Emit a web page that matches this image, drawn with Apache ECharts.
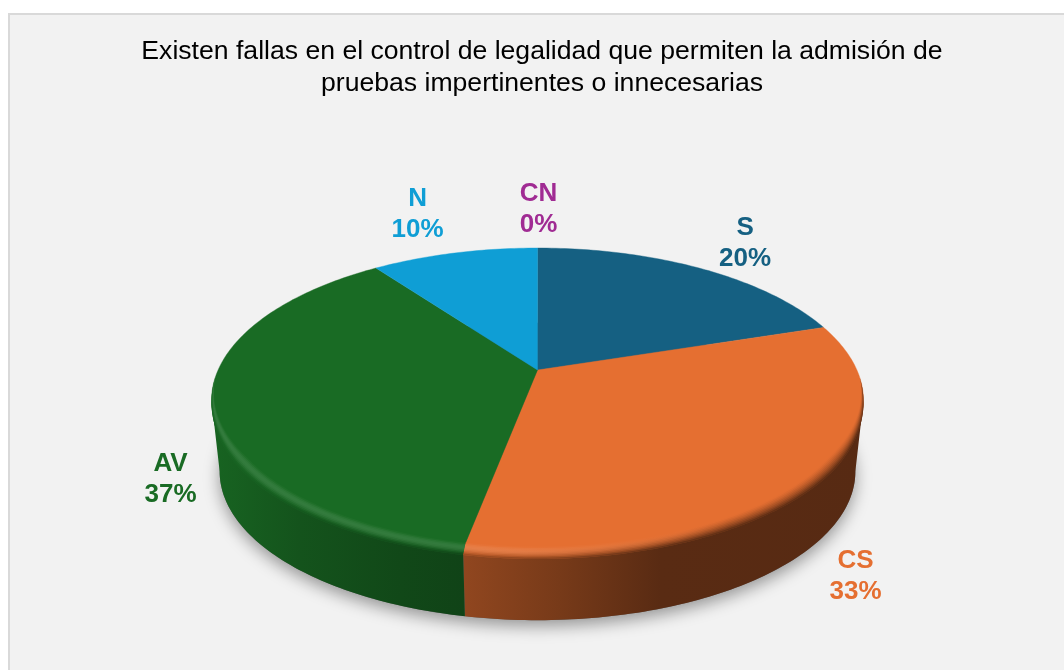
<!DOCTYPE html>
<html><head><meta charset="utf-8">
<style>html,body{margin:0;padding:0;background:#fff;overflow:hidden}#c{width:1064px;height:670px}</style>
<script src="https://cdn.jsdelivr.net/npm/echarts@6/dist/echarts.min.js"></script>
</head><body><div id="c"></div>
<script>
const categories = ['S','CS','AV','N','CN'];
const percents = [20,33,37,10,0];
const colors = ['#156082','#E56F31','#196B24','#0F9ED5','#A02B93'];
const labelOffsets = [[46,-24.5],[42,95],[-41,76],[-37,-39],[1,-38.5]];
const titleLines = ['Existen fallas en el control de legalidad que permiten la admisión de','pruebas impertinentes o innecesarias'];

// perspective pie geometry
const CX=537.5, AY=370, A=146.4, B=0.2, C=319.4;
const DEPTH=71, BSCALE=0.975, EY=400.5;
const RAD=Math.PI/180;
function P(deg,r){const u=r*Math.sin(deg*RAD),v=r*Math.cos(deg*RAD),d=1+B*v;return [CX+C*u/d,AY-A*v/d];}
function Pb(deg){const p=P(deg,1);return [CX+BSCALE*(p[0]-CX),EY+DEPTH+BSCALE*(p[1]-EY)];}
function arc(a,b,f){const n=Math.max(1,Math.ceil(Math.abs(b-a))),o=[];for(let i=0;i<=n;i++)o.push(f(a+(b-a)*i/n));return o;}
function rgb(h){return [1,3,5].map(i=>parseInt(h.substr(i,2),16));}
function mix(a,b,t){return a.map((x,i)=>x+(b[i]-x)*t);}
function css(c){return 'rgb('+c.map(Math.round).join(',')+')';}
const shadeStops=[[200,.95],[300,.78],[400,.67],[465,.63],[560,.52],[660,.39],[870,.38]];
const GX0=200,GX1=870;
function shade(x){for(let i=1;i<shadeStops.length;i++){if(x<=shadeStops[i][0]){const a=shadeStops[i-1],b=shadeStops[i];return a[1]+(b[1]-a[1])*(x-a[0])/(b[0]-a[0]);}}return .38;}
function wallFill(base){return new echarts.graphic.LinearGradient(GX0,0,GX1,0,shadeStops.map(s=>({offset:(s[0]-GX0)/(GX1-GX0),color:css(base.map(c=>c*s[1]))})),true);}
function clamp(x){return Math.max(0,Math.min(1,x));}
function rimW(deg){return clamp((-0.05-Math.cos(deg*RAD))/0.5);}
function rimPt(deg,t){const w=rimW(deg),p=P(deg,1-0.028*w*(1-t));return [p[0],p[1]+6*w*t];}
function rimFill(base,t){
  const st=[];for(let x=GX0;x<=GX1;x+=40){
    const L=clamp((720-x)/220),hi=Math.sin(Math.PI*Math.min(1,t*1.15));
    const lit=mix(base,[255,255,255],0.12*hi*L);
    const wall=base.map(c=>c*shade(x));
    st.push({offset:(x-GX0)/(GX1-GX0),color:css(mix(lit,wall,Math.pow(t,1.5+2*L)))});
  }
  return new echarts.graphic.LinearGradient(GX0,0,GX1,0,st,true);
}
const RIM_A=92.9,RIM_B=267.1,STRIPS=9;
const WALL_A=101.5,WALL_B=258.5;
const total=percents.reduce((a,b)=>a+b,0);
const starts=[];percents.reduce((s,p,i)=>{starts[i]=s;return s+p;},0);

function renderSlice(params,api){
  const i=api.value(0),val=api.value(1);
  const a0=starts[i]/total*360,a1=(starts[i]+val)/total*360;
  const base=rgb(colors[i]),kids=[];
  if(val>0){
    const wa=Math.max(a0,WALL_A),wb=Math.min(a1,WALL_B);
    if(wb>wa){
      kids.push({type:'polygon',z2:1,shape:{points:arc(wa,wb,d=>P(d,1)).concat(arc(wb,wa,Pb))},style:{fill:wallFill(base)}});
    }
    kids.push({type:'polygon',z2:5,shape:{points:[[CX,AY]].concat(arc(a0,a1,d=>P(d,1)))},style:{fill:colors[i],stroke:colors[i],lineWidth:0.4}});
    const ra=Math.max(a0,RIM_A),rb=Math.min(a1,RIM_B);
    if(rb>ra){
      for(let k=0;k<STRIPS;k++){
        const t0=k/STRIPS,t1=(k+1)/STRIPS,tOuter=Math.min(1,(k+2)/STRIPS);
        kids.push({type:'polygon',z2:6+k,shape:{points:arc(ra,rb,d=>rimPt(d,t0)).concat(arc(rb,ra,d=>rimPt(d,tOuter)))},
          style:{fill:rimFill(base,(t0+t1)/2)}});
      }
    }
  }
  const mid=(a0+a1)/2,an=P(mid,1),off=labelOffsets[i];
  kids.push({type:'text',z2:30,x:an[0]+off[0],y:an[1]+off[1],
    style:{text:categories[i]+'\n'+val+'%',fill:colors[i],font:'bold 26px "Liberation Sans", Arial, sans-serif',
      align:'center',verticalAlign:'middle',lineHeight:31}});
  return {type:'group',children:kids};
}
function renderShadow(){
  return {type:'polygon',shape:{points:arc(0,360,Pb)},
    style:{fill:'#666',shadowBlur:16,shadowColor:'rgba(0,0,0,0.38)',shadowOffsetX:0,shadowOffsetY:6}};
}
const chart=echarts.init(document.getElementById('c'),null,{renderer:'canvas'});
chart.setOption({
  animation:false,backgroundColor:'#ffffff',
  title:{text:titleLines.join('\n'),left:537,top:31,textAlign:'center',
    textStyle:{color:'#000',fontFamily:'"Liberation Sans", Arial, sans-serif',fontSize:26.6,fontWeight:'normal',lineHeight:32}},
  graphic:[{type:'rect',z:-10,silent:true,shape:{x:9,y:14,width:1100,height:700},style:{fill:'#f2f2f2',stroke:'#d9d9d9',lineWidth:2}}],
  series:[
    {type:'custom',coordinateSystem:'none',silent:true,z:1,data:[[0]],renderItem:renderShadow},
    {type:'custom',coordinateSystem:'none',silent:true,z:2,
     data:categories.map((c,i)=>[i,percents[i]]),renderItem:renderSlice}
  ]
});
</script></body></html>
